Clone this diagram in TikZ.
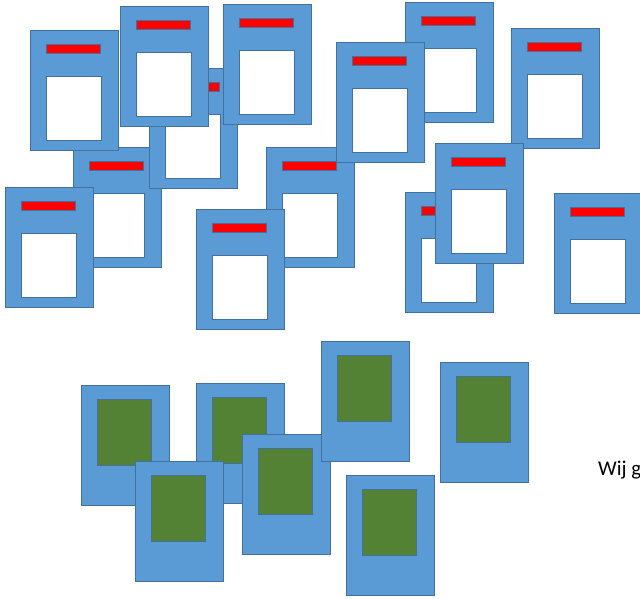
\documentclass[tikz,border=0pt]{standalone}
\usepackage{fontspec}
\setmainfont{Carlito}
\usetikzlibrary{positioning}
\definecolor{cardblue}{HTML}{5B9BD5}
\definecolor{cardedge}{HTML}{41719C}
\definecolor{photogreen}{HTML}{548235}

\begin{document}
\begin{tikzpicture}[x=1pt,y=-1pt,
 card/.style={fill=cardblue,draw=cardedge,line width=0.8pt},
 namebar/.style={fill=red,draw=cardedge,line width=0.6pt},
 window/.style={fill=white,draw=cardedge,line width=0.8pt},
 photo/.style={fill=photogreen,draw=cardedge,line width=0.8pt},
 lab/.style={font=\fontsize{21}{25}\selectfont,inner sep=0pt,anchor=base west}]
\useasboundingbox (0,0) rectangle (640,599);
% upper cards: name bar and empty window
\foreach \x/\y in {73/147,149/68,30/30,120/6,223/4,5/187,405/2,266/147,336/42,196/209,511/28,405/192,435/143,554/193}{
 \draw[card] (\x,\y) rectangle ++(88,120);
 \draw[namebar] (\x+16,\y+14) rectangle ++(54,9);
 \draw[window] (\x+16,\y+46) rectangle ++(55,64);
}
% lower cards: filled photo
\foreach \x/\y in {81/385,196/383,135/461,242/434,321/341,440/362,346/475}{
 \draw[card] (\x,\y) rectangle ++(88,120);
 \draw[photo] (\x+16,\y+14) rectangle ++(54,66);
}
\node[lab] (wij) at (598,475) {Wij g};
\end{tikzpicture}
\end{document}
